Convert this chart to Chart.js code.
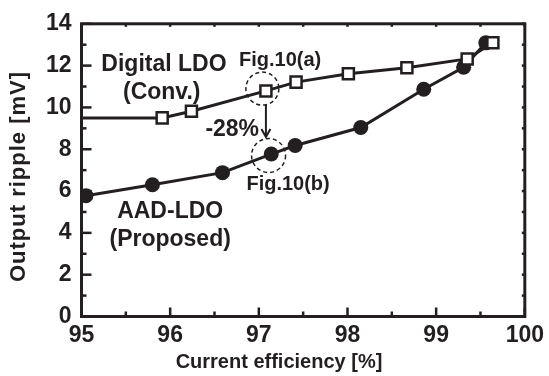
<!DOCTYPE html>
<html><head><meta charset="utf-8">
<script src="https://cdn.jsdelivr.net/npm/chart.js@4/dist/chart.umd.min.js"></script>
<style>html,body{margin:0;padding:0;background:#fff}canvas{display:block}</style>
</head><body>
<canvas id="c" width="549" height="376"></canvas>
<script>
// ---- data ----
const xTickLabels = [95, 96, 97, 98, 99, 100];
const yTickLabels = [0, 2, 4, 6, 8, 10, 12, 14];
const convEff    = [95.0, 95.91, 96.24, 97.08, 97.42, 98.01, 98.67, 99.35, 99.64];
const convRipple = [9.49, 9.50, 9.82, 10.79, 11.21, 11.61, 11.90, 12.32, 13.09];
const aadEff     = [95.05, 95.80, 96.59, 97.14, 97.41, 98.15, 98.86, 99.31, 99.56];
const aadRipple  = [5.78, 6.30, 6.88, 7.77, 8.18, 9.04, 10.87, 11.92, 13.09];
const seriesNames = ['Digital LDO (Conv.)', 'AAD-LDO (Proposed)'];
const xTitle = 'Current efficiency [%]';
const yTitle = 'Output ripple [mV]';

const INK = '#231f20';
const FONT = '"Liberation Sans", Arial, Helvetica, sans-serif';

const toPts = (xs, ys) => xs.map((v, i) => ({x: v, y: ys[i]}));

function seg(ctx, x1, y1, x2, y2) { ctx.beginPath(); ctx.moveTo(x1, y1); ctx.lineTo(x2, y2); ctx.stroke(); }

const framePlugin = {
  id: 'frame',
  afterDraw(chart) {
    const {ctx, chartArea: a, scales: {x, y}} = chart;
    ctx.save();
    ctx.strokeStyle = INK;
    ctx.lineCap = 'butt';
    // ticks
    ctx.lineWidth = 2.5;
    for (let i = 0; i <= 10; i++) {
      const v = 95 + i * 0.5;
      const px = x.getPixelForValue(v);
      const major = i % 2 === 0;
      seg(ctx, px, a.bottom, px, a.bottom - (major ? 9 : 5));
      seg(ctx, px, a.top, px, a.top + 3);
    }
    for (let v = 0; v <= 14; v++) {
      const py = y.getPixelForValue(v);
      const major = v % 2 === 0;
      seg(ctx, a.left, py, a.left + (major ? 10 : 5), py);
      seg(ctx, a.right, py, a.right - 3, py);
    }
    // frame
    ctx.lineWidth = 3;
    ctx.strokeRect(a.left, a.top, a.right - a.left, a.bottom - a.top);

    // axis titles
    ctx.fillStyle = INK;
    ctx.font = 'bold 20px ' + FONT;
    ctx.textAlign = 'center';
    ctx.textBaseline = 'alphabetic';
    ctx.fillText(xTitle, 279, 368);
    ctx.save();
    ctx.translate(25, 176.5);
    ctx.rotate(-Math.PI / 2);
    ctx.font = 'bold 22px ' + FONT;
    try { ctx.letterSpacing = '1px'; } catch (e) {}
    ctx.fillText(yTitle, 0, 0);
    ctx.restore();

    // annotations (positioned in data coordinates)
    const P = (vx, vy) => [x.getPixelForValue(vx), y.getPixelForValue(vy)];
    const txt = (s, vx, vy, size) => {
      const [px, py] = P(vx, vy);
      ctx.font = 'bold ' + size + 'px ' + FONT;
      ctx.fillText(s, px, py);
    };
    txt('Digital LDO', 95.93, 11.73, 23);
    txt('(Conv.)', 95.905, 10.40, 23);
    txt('Fig.10(a)', 97.24, 11.96, 20);
    txt('-28%', 96.70, 8.61, 23);
    txt('Fig.10(b)', 97.33, 6.07, 20);
    txt('AAD-LDO', 96.0, 4.69, 23);
    txt('(Proposed)', 96.0, 3.36, 23);

    // dashed circles
    ctx.lineWidth = 1.5;
    ctx.setLineDash([4, 3]);
    let [cx, cy] = P(97.04, 10.90);
    ctx.beginPath(); ctx.arc(cx, cy, 16.5, 0, Math.PI * 2); ctx.stroke();
    [cx, cy] = P(97.11, 7.70);
    ctx.beginPath(); ctx.arc(cx, cy, 17, 0, Math.PI * 2); ctx.stroke();
    ctx.setLineDash([]);

    // arrow
    ctx.lineWidth = 2;
    const [ax, ay1] = P(97.08, 10.16);
    const [, ay2] = P(97.08, 8.59);
    seg(ctx, ax, ay1, ax, ay2);
    ctx.beginPath();
    ctx.moveTo(ax - 4.5, ay2 - 8); ctx.lineTo(ax, ay2); ctx.lineTo(ax + 4.5, ay2 - 8);
    ctx.stroke();
    ctx.restore();
  }
};

const tickFont = {family: FONT, size: 23, weight: 'bold'};

new Chart(document.getElementById('c'), {
  type: 'scatter',
  data: {
    datasets: [
      {
        label: seriesNames[0],
        data: toPts(convEff, convRipple),
        showLine: true,
        borderColor: INK,
        borderWidth: 3,
        pointStyle: 'rect',
        pointRadius: ctx => ctx.dataIndex === 0 ? 0 : 7.8,
        pointBackgroundColor: '#fff',
        pointBorderColor: INK,
        pointBorderWidth: 2.5,
        tension: 0
      },
      {
        label: seriesNames[1],
        data: toPts(aadEff, aadRipple),
        showLine: true,
        borderColor: INK,
        borderWidth: 3,
        pointStyle: 'circle',
        pointRadius: 7.5,
        pointBackgroundColor: INK,
        pointBorderColor: INK,
        pointBorderWidth: 0,
        tension: 0
      }
    ]
  },
  options: {
    responsive: false,
    animation: false,
    layout: {padding: {top: 18.3, right: 20, left: 0, bottom: 0}},
    plugins: {legend: {display: false}, tooltip: {enabled: false}},
    scales: {
      x: {
        type: 'linear', min: 95, max: 100,
        afterBuildTicks: s => { s.ticks = xTickLabels.map(v => ({value: v})); },
        afterFit: s => { s.height = 59.5; },
        grid: {display: false, drawTicks: false},
        border: {display: false},
        ticks: {font: tickFont, color: INK, padding: 5, maxRotation: 0, autoSkip: false}
      },
      y: {
        type: 'linear', min: 0, max: 14,
        afterBuildTicks: s => { s.ticks = yTickLabels.map(v => ({value: v})); },
        afterFit: s => { s.width = 81.5; },
        grid: {display: false, drawTicks: false},
        border: {display: false},
        ticks: {font: tickFont, color: INK, padding: 10, autoSkip: false}
      }
    }
  },
  plugins: [framePlugin]
});
</script>
</body></html>
